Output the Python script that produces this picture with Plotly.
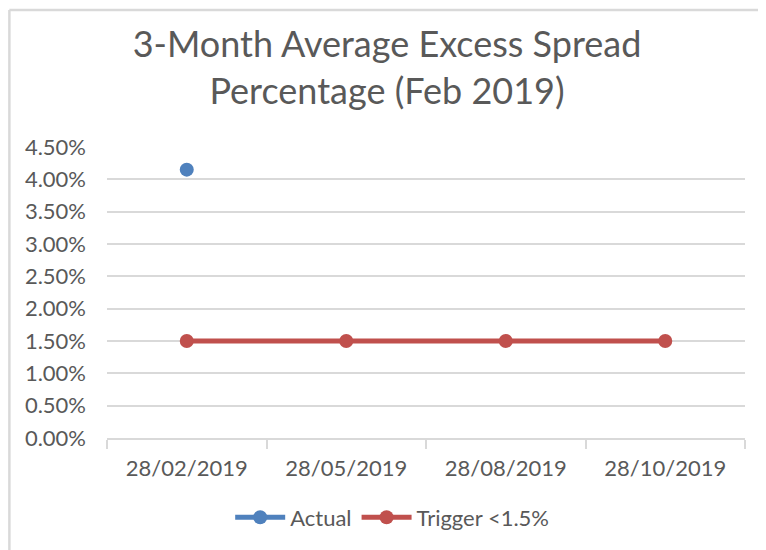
import plotly.graph_objects as go

# Chart data
categories = ["28/02/2019", "28/05/2019", "28/08/2019", "28/10/2019"]
actual = [0.0415, None, None, None]
trigger = [0.015, 0.015, 0.015, 0.015]

BLUE = "#4F81BD"
RED = "#C0504D"
GRID = "#d9d9d9"
TEXT = "#595959"
FONT = "Lato, Open Sans, sans-serif"

fig = go.Figure()
fig.add_trace(go.Scatter(
    x=categories, y=actual, name="Actual", mode="lines+markers",
    line=dict(color=BLUE, width=5), marker=dict(color=BLUE, size=14),
))
fig.add_trace(go.Scatter(
    x=categories, y=trigger, name="Trigger <1.5%", mode="lines+markers",
    line=dict(color=RED, width=5), marker=dict(color=RED, size=14),
))

# the page adds an 8px body margin, so the figure is 8px smaller than the window
fig.update_layout(
    width=758,
    height=542,
    margin=dict(l=99, r=21, t=139, b=110),
    paper_bgcolor="white",
    plot_bgcolor="white",
    font=dict(family=FONT, color=TEXT, size=22),
    title=dict(
        text="3-Month Average Excess Spread<br>Percentage (Feb 2019)",
        x=0.5, xanchor="center", y=0.91, yanchor="top",
        font=dict(size=36, color=TEXT, family=FONT),
    ),
    legend=dict(
        orientation="h", x=0.447, xanchor="center", y=-0.273, yanchor="middle",
        font=dict(size=22, color=TEXT), itemwidth=50,
    ),
    showlegend=True,
)
fig.update_xaxes(
    type="category", range=[-0.5, 3.5], showgrid=False,
    showline=True, linecolor=GRID, linewidth=2,
    ticks="outside", tickson="boundaries", ticklen=9, tickcolor=GRID, tickwidth=2,
    tickfont=dict(size=22, color=TEXT), ticklabelstandoff=10,
)
fig.update_yaxes(
    range=[0, 0.045], dtick=0.005, tickformat=".2%",
    showgrid=True, gridcolor=GRID, gridwidth=2, zeroline=False,
    showline=False, ticks="", tickfont=dict(size=22, color=TEXT),
    ticklabelstandoff=20,
)

# Chart-area border (top and left edges visible in the crop)
fig.add_shape(type="line", xref="paper", yref="paper", x0=-0.153, x1=1.1, y0=1.471, y1=1.471,
              line=dict(color=GRID, width=2.5))
fig.add_shape(type="line", xref="paper", yref="paper", x0=-0.153, x1=-0.153, y0=-0.4, y1=1.471,
              line=dict(color=GRID, width=2.5))

fig.write_html("out.html")
